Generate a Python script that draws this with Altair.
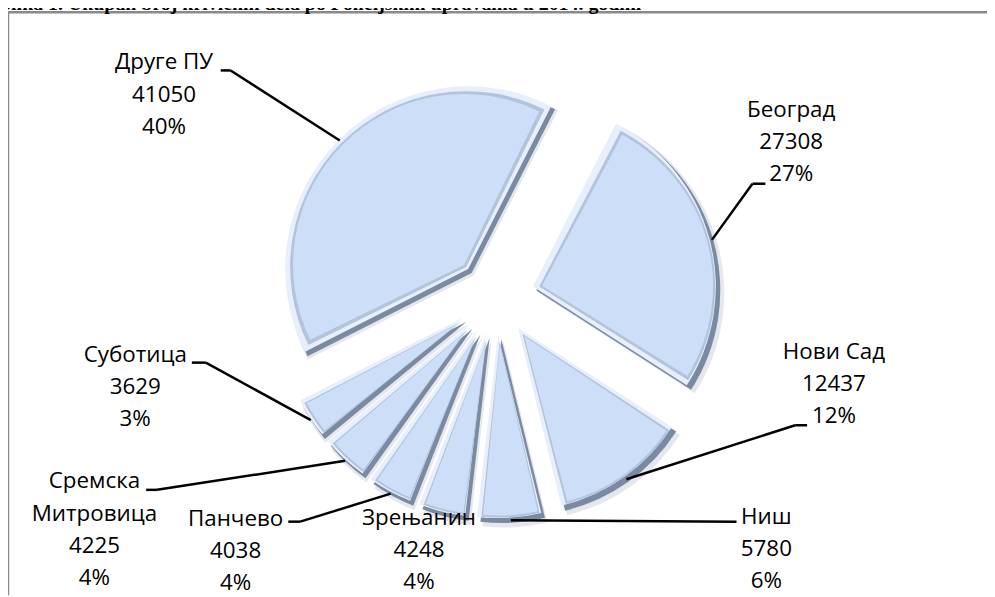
import altair as alt
import pandas as pd

# ---------------- data ----------------
CATEGORIES = ["Београд", "Нови Сад", "Ниш", "Зрењанин", "Панчево",
              "Сремска Митровица", "Суботица", "Друге ПУ"]
VALUES = [27308, 12437, 5780, 4248, 4038, 4225, 3629, 41050]
PERCENT_LABELS = ["27%", "12%", "6%", "4%", "4%", "4%", "3%", "40%"]
TITLE = "Slika 1.      Ukupan broj krivičnih dela po Policijskim  upravama u  2014. godini"

# ---------------- layout (pixels) ----------------
W, H = 985, 589
CX, CY = 492, 290          # centre of the pie
R = 185                    # radius
EXPLODE = 39               # explosion distance
ROT = 27 * 3.141592653589793 / 180   # angle of first slice

# label positions (centre of first text line) and leader-line elbows
LABEL_X = [788, 831, 763, 413.5, 229, 87, 128, 157]
LABEL_Y = [102.5, 346, 512, 513, 514, 476.5, 349, 55]
ELBOW_X = [749, 792, 733, None, 294, 150, 199, 224]
ELBOW_Y = [175, 418, 515, None, 515, 483, 355, 61]
TICK_X = [762, 804, 733, None, 282, 139, 185, 214]

FONT = "Open Sans"
FS = 22.5

df = pd.DataFrame({
    "order": list(range(len(CATEGORIES))),
    "category": CATEGORIES,
    "value": VALUES,
    "pct": PERCENT_LABELS,
    "lx": LABEL_X,
    "ly": LABEL_Y,
    "ex": ELBOW_X,
    "ey": ELBOW_Y,
    "tx": TICK_X,
})

xs = alt.Scale(domain=[0, W], range=[0, W])
ys = alt.Scale(domain=[0, H], range=[0, H])

base = (
    alt.Chart(df)
    .transform_window(cum="sum(value)", sort=[alt.SortField("order")], frame=[None, 0])
    .transform_joinaggregate(total="sum(value)")
    .transform_calculate(a0=f"{ROT} + 2*PI*(datum.cum - datum.value)/datum.total")
    .transform_calculate(a1=f"{ROT} + 2*PI*datum.cum/datum.total")
    .transform_calculate(mid="(datum.a0 + datum.a1)/2")
)


def arc_layer(shift, radius, pad, color, ox=0, oy=0):
    return (
        base.transform_calculate(
            ax=f"{CX} + {ox} + ({EXPLODE} + {shift})*sin(datum.mid)")
        .transform_calculate(
            ay=f"{CY} + {oy} - ({EXPLODE} + {shift})*cos(datum.mid)")
        .mark_arc(radius=radius, padAngle=pad, color=color)
        .encode(
            x=alt.X("ax:Q", scale=xs, axis=None),
            y=alt.Y("ay:Q", scale=ys, axis=None),
            theta=alt.Theta("a0:Q", scale=None, stack=None),
            theta2="a1:Q",
        )
    )


shadow = arc_layer(0, R + 2, 0, "#e4e7ec", 4, 5)
dark = arc_layer(0, R, 0, "#7a8aa3", 2, 2.5)
light = arc_layer(0, R - 1, 0, "#e8effa", -1.5, -1.5)
bevel = arc_layer(5, R - 8, 0.02, "#b2c3dc")
face = arc_layer(8, R - 13, 0.032, "#cddff8")

leader1 = (
    base.transform_filter("isValid(datum.ex)")
    .transform_calculate(px=f"{CX} + {EXPLODE + R}*sin(datum.mid)")
    .transform_calculate(py=f"{CY} - {EXPLODE + R}*cos(datum.mid)")
    .mark_rule(color="black", strokeWidth=2.5)
    .encode(
        x=alt.X("px:Q", scale=xs, axis=None),
        y=alt.Y("py:Q", scale=ys, axis=None),
        x2="ex:Q",
        y2="ey:Q",
    )
)
leader2 = (
    base.transform_filter("isValid(datum.ex)")
    .mark_rule(color="black", strokeWidth=2.5)
    .encode(
        x=alt.X("ex:Q", scale=xs, axis=None),
        y=alt.Y("ey:Q", scale=ys, axis=None),
        x2="tx:Q",
    )
)

labels = (
    base.transform_calculate(
        name="length(datum.category) > 12 ? replace(datum.category, ' ', '\\n') : datum.category")
    .transform_calculate(label="datum.name + '\\n' + datum.value + '\\n' + datum.pct")
    .mark_text(font=FONT, fontSize=FS, lineBreak="\n", lineHeight=32.5,
               baseline="top", align="center", dy=-13, color="black")
    .encode(
        x=alt.X("lx:Q", scale=xs, axis=None),
        y=alt.Y("ly:Q", scale=ys, axis=None),
        text="label:N",
    )
)

one = pd.DataFrame({"t": [TITLE]})
frame_top = alt.Chart(one).mark_rule(color="#8a8a8a", strokeWidth=2.5).encode(
    x=alt.value(0), x2=alt.value(W), y=alt.value(2.5))
frame_left = alt.Chart(one).mark_rule(color="#8a8a8a", strokeWidth=2.5).encode(
    x=alt.value(0), y=alt.value(2.5), y2=alt.value(H))
title = alt.Chart(one).mark_text(font="Liberation Serif", fontWeight="bold", fontSize=20,
                                 align="left", baseline="alphabetic", color="black").encode(
    x=alt.value(-8), y=alt.value(0.5), text="t:N")

chart = alt.layer(
    frame_top, frame_left, title,
    shadow, dark, light, bevel, face,
    leader1, leader2, labels,
).properties(width=W, height=H, autosize="none", padding=0).configure_view(stroke=None)

chart.save("out.html", embed_options={"renderer": "svg", "actions": False})
